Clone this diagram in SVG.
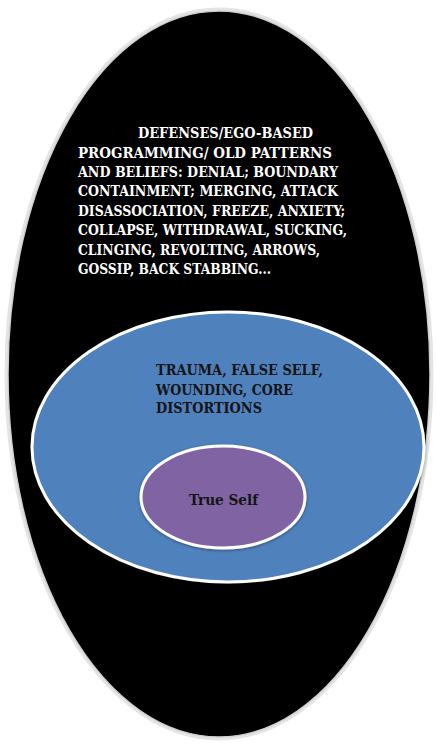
<svg xmlns="http://www.w3.org/2000/svg" width="436" height="745" viewBox="0 0 436 745">
  <defs>
    <style>
      .lbl { font-family: "DejaVu Serif Condensed", "DejaVu Serif", "Liberation Serif", serif; font-weight: bold; }
      .w { fill: #ffffff; font-size: 15.5px; }
      .d { fill: #141414; font-size: 15px; }
      .t { fill: #141414; font-size: 15px; }
    </style>
    <filter id="sh" x="-10%" y="-10%" width="120%" height="120%">
      <feGaussianBlur in="SourceAlpha" stdDeviation="1.5"/>
      <feOffset dx="0" dy="1" result="b"/>
      <feFlood flood-color="#000" flood-opacity="0.4"/>
      <feComposite in2="b" operator="in"/>
      <feMerge><feMergeNode/><feMergeNode in="SourceGraphic"/></feMerge>
    </filter>
  </defs>

  <rect width="436" height="745" fill="#ffffff"/>

  <g id="outer">
    <ellipse cx="219" cy="374" rx="213" ry="365" fill="none" stroke="#e4e4e4" stroke-width="3"/>
    <ellipse cx="219" cy="374" rx="211" ry="363" fill="#000000" stroke="#cfcfcf" stroke-width="1.5"/>
    <g class="lbl w">
      <text x="138" y="138" textLength="175" lengthAdjust="spacingAndGlyphs">DEFENSES/EGO-BASED</text>
      <text x="78" y="158" textLength="254" lengthAdjust="spacingAndGlyphs">PROGRAMMING/ OLD PATTERNS</text>
      <text x="78" y="177" textLength="260" lengthAdjust="spacingAndGlyphs">AND BELIEFS: DENIAL; BOUNDARY</text>
      <text x="78" y="196" textLength="260" lengthAdjust="spacingAndGlyphs">CONTAINMENT; MERGING, ATTACK</text>
      <text x="78" y="216" textLength="267" lengthAdjust="spacingAndGlyphs">DISASSOCIATION, FREEZE, ANXIETY;</text>
      <text x="78" y="235" textLength="269" lengthAdjust="spacingAndGlyphs">COLLAPSE, WITHDRAWAL, SUCKING,</text>
      <text x="78" y="255" textLength="242" lengthAdjust="spacingAndGlyphs">CLINGING, REVOLTING, ARROWS,</text>
      <text x="78" y="274" textLength="193" lengthAdjust="spacingAndGlyphs">GOSSIP, BACK STABBING...</text>
    </g>
  </g>

  <g id="middle">
    <ellipse cx="228" cy="447" rx="196" ry="135" fill="#4f81bd" stroke="#ffffff" stroke-width="3" filter="url(#sh)"/>
    <g class="lbl d">
      <text x="156" y="375" textLength="167" lengthAdjust="spacingAndGlyphs">TRAUMA, FALSE SELF,</text>
      <text x="156" y="395" textLength="137" lengthAdjust="spacingAndGlyphs">WOUNDING, CORE</text>
      <text x="156" y="413" textLength="106" lengthAdjust="spacingAndGlyphs">DISTORTIONS</text>
    </g>
  </g>

  <g id="inner">
    <ellipse cx="223" cy="497" rx="82" ry="51" fill="#8064a2" stroke="#ffffff" stroke-width="3" filter="url(#sh)"/>
    <text class="lbl t" x="189" y="505" textLength="69" lengthAdjust="spacingAndGlyphs">True Self</text>
  </g>

  <g id="connectors"/>
</svg>
